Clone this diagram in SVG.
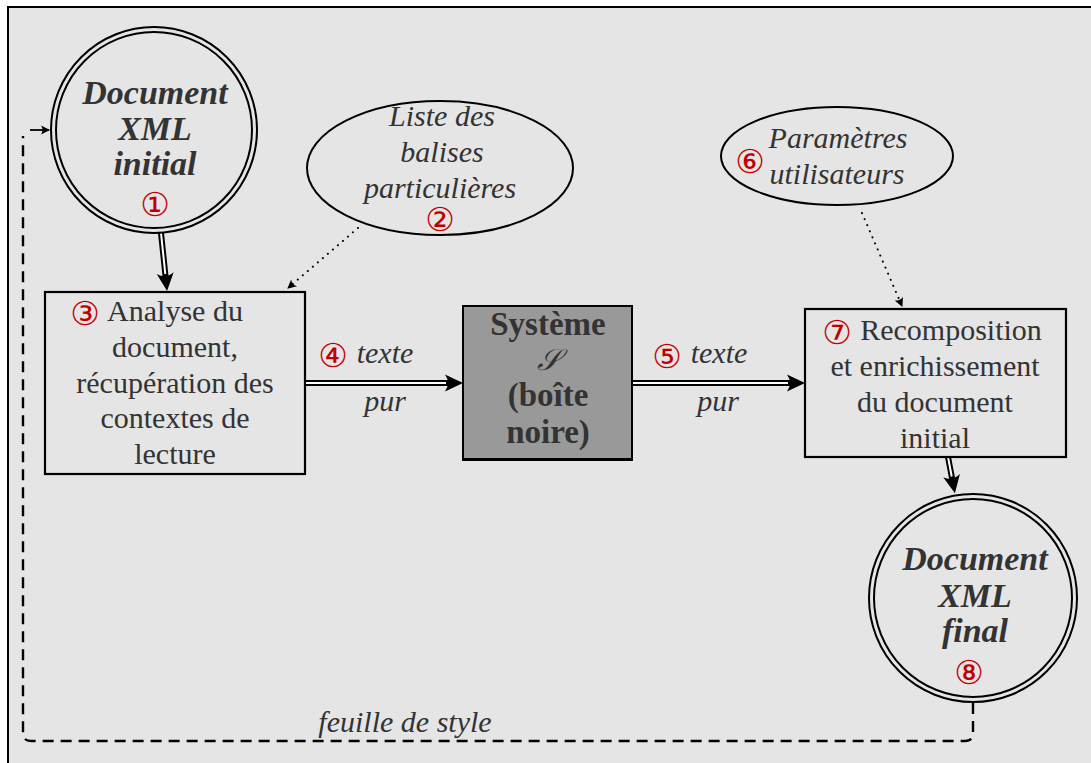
<svg xmlns="http://www.w3.org/2000/svg" width="1091" height="763" viewBox="0 0 1091 763">
<style>
.t{font-family:"Liberation Serif","DejaVu Serif",serif;font-size:30px;fill:#333;text-anchor:middle}
.i{font-style:italic}
.bi{font-style:italic;font-weight:bold;font-size:34px}
.b{font-weight:bold;font-size:33px}
.n{font-family:"DejaVu Sans",sans-serif;font-size:33px;fill:#c00000;text-anchor:middle}
.box{fill:none;stroke:#000;stroke-width:2.2}
.ell{fill:none;stroke:#000;stroke-width:2}
.dblk{fill:none;stroke:#000;stroke-width:6}
.dblw{fill:none;stroke:#fff;stroke-width:2}
.dot{fill:none;stroke:#000;stroke-width:2;stroke-dasharray:0.1 6.5;stroke-linecap:round}
.dash{fill:none;stroke:#000;stroke-width:2.4;stroke-dasharray:11 7}
</style>
<defs>
<marker id="big" markerUnits="userSpaceOnUse" markerWidth="20" markerHeight="20" viewBox="0 0 20 20" refX="4" refY="10" orient="auto">
<path d="M18,10 L0,1.5 Q6,10 0,18.5 Z" fill="#000"/>
</marker>
<marker id="small" markerUnits="userSpaceOnUse" markerWidth="12" markerHeight="12" viewBox="0 0 12 12" refX="9" refY="6" orient="auto">
<path d="M10,6 L1,1.5 Q4,6 1,10.5 Z" fill="#000"/>
</marker>
</defs>
<rect x="8" y="7" width="1100" height="800" fill="#e5e5e5" stroke="#000" stroke-width="2"/>

<g id="connectors">
<path class="dblk" d="M161,233 L165.6,277" marker-end="url(#big)"/>
<path class="dblw" d="M161,233 L165.3,274"/>
<path class="dot" d="M358,228 L288,288" marker-end="url(#small)"/>
<path class="dblk" d="M305,383 L449,383" marker-end="url(#big)"/>
<path class="dblw" d="M305,383 L446,383"/>
<path class="dblk" d="M632,383 L791,383" marker-end="url(#big)"/>
<path class="dblw" d="M632,383 L788,383"/>
<path class="dot" d="M862,213 L902,306" marker-end="url(#small)"/>
<path class="dblk" d="M948,457 L952.3,479.5" marker-end="url(#big)"/>
<path class="dblw" d="M948,457 L951.7,476.5"/>
<path class="dash" d="M973,703 L973,733 Q973,741 965,741 L31,741 Q23,741 23,733 L23,136"/>
<path fill="none" stroke="#000" stroke-width="1.8" d="M30,130 L49,130" marker-end="url(#small)"/>
<text class="t i" x="405" y="732">feuille de style</text>
<text class="n" x="333" y="367">④</text>
<text class="t i" x="385" y="363">texte</text>
<text class="t i" x="385" y="411">pur</text>
<text class="n" x="667" y="368">⑤</text>
<text class="t i" x="719" y="363">texte</text>
<text class="t i" x="718" y="411">pur</text>
</g>

<g id="n1">
<circle cx="154" cy="130" r="103" class="ell" stroke-width="2.2"/>
<circle cx="154" cy="130" r="98" class="ell" stroke-width="2.2"/>
<text class="t bi" x="155" y="104">Document</text>
<text class="t bi" x="155" y="140">XML</text>
<text class="t bi" x="155" y="175">initial</text>
<text class="n" x="155" y="216">①</text>
</g>

<g id="n2">
<ellipse cx="440" cy="168" rx="133" ry="67" class="ell"/>
<text class="t i" x="442" y="126">Liste des</text>
<text class="t i" x="442" y="162">balises</text>
<text class="t i" x="440" y="198">particulières</text>
<text class="n" x="440" y="231" font-size="31">②</text>
</g>

<g id="n3">
<rect x="45" y="292" width="260" height="182" class="box"/>
<text class="n" x="85" y="325">③</text>
<text class="t" x="175" y="321">Analyse du</text>
<text class="t" x="175" y="357">document,</text>
<text class="t" x="175" y="393">récupération des</text>
<text class="t" x="175" y="428">contextes de</text>
<text class="t" x="175" y="464">lecture</text>
</g>

<g id="nS">
<rect x="463" y="306" width="169" height="154" fill="#999" stroke="#000" stroke-width="2"/>
<line x1="463" y1="459.5" x2="633" y2="459.5" stroke="#000" stroke-width="3"/>
<text class="t b" x="548" y="335">Système</text>
<text class="t i" x="548" y="370">𝒮</text>
<text class="t b" x="548" y="406">(boîte</text>
<text class="t b" x="548" y="443">noire)</text>
</g>

<g id="n6">
<ellipse cx="837" cy="156" rx="116" ry="49" class="ell"/>
<text class="n" x="750" y="173">⑥</text>
<text class="t i" x="838" y="148">Paramètres</text>
<text class="t i" x="837" y="184">utilisateurs</text>
</g>

<g id="n7">
<rect x="805" y="309" width="261" height="148" class="box"/>
<text class="n" x="837" y="344">⑦</text>
<text class="t" x="951" y="340">Recomposition</text>
<text class="t" x="935" y="376">et enrichissement</text>
<text class="t" x="935" y="412">du document</text>
<text class="t" x="935" y="448">initial</text>
</g>

<g id="n8">
<circle cx="973" cy="598" r="104" class="ell" stroke-width="2.2"/>
<circle cx="973" cy="598" r="99" class="ell" stroke-width="2.2"/>
<text class="t bi" x="975" y="570">Document</text>
<text class="t bi" x="975" y="607">XML</text>
<text class="t bi" x="975" y="642">final</text>
<text class="n" x="969" y="684">⑧</text>
</g>
</svg>
